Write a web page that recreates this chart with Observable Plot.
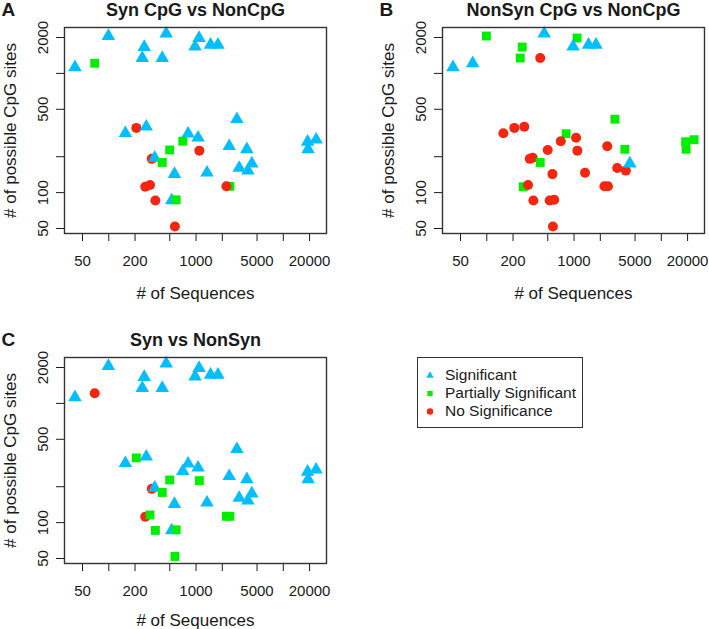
<!DOCTYPE html>
<html>
<head>
<meta charset="utf-8">
<script src="https://cdn.jsdelivr.net/npm/d3@7"></script>
<script src="https://cdn.jsdelivr.net/npm/@observablehq/plot@0.6"></script>
<style>
  body { margin: 0; background: #fff; }
  #wrap { position: relative; width: 709px; height: 629px; overflow: hidden; background: #fff;
          font-family: "Liberation Sans", Arial, Helvetica, sans-serif; color: #1a1a1a; }
  .panel { position: absolute; width: 355px; height: 310px; }
  #legend { position: absolute; left: 417px; top: 357px; width: 166px; height: 71px;
            border: 1.3px solid #333; box-sizing: border-box; padding-top: 8px; }
  #legend .item { height: 18px; display: flex; align-items: center; font-size: 15.5px; white-space: nowrap; }
  #legend svg { margin-left: 7px; margin-right: 10px; flex: none; }
</style>
</head>
<body>
<div id="wrap"></div>
<script>
// ---- data ----
const seqCounts = [41, 99, 255, 242, 455, 410, 1083, 975, 1466, 1784, 155, 207, 311, 269, 2940, 811, 1055, 2401, 3823, 336,
                   566, 1336, 3124, 3926, 4360, 526, 19000, 23770, 19250, 69, 705, 499, 410, 592, 2446, 1092, 262, 297, 342, 573, 2230];
const cpgSites  = [1123, 2059, 1664, 1345, 2160, 1345, 1981, 1680, 1736, 1736, 315, 349, 192, 357, 413, 312, 289, 245, 231, 196,
                   143, 147, 161, 153, 175, 86, 267, 278, 231, 1216, 270, 228, 179, 87, 113, 225, 112, 116, 86, 52, 113];
// S = Significant, P = Partially Significant, N = No Significance
const synCpgVsNonCpg    = ["S","S","S","S","S","S","S","S","S","S","S","N","N","S","S","S","S","S","S","S",
                           "S","S","S","S","S","S","S","S","S","P","P","P","P","P","P","N","N","N","N","N","N"];
const nonSynCpgVsNonCpg = ["S","P","P","P","S","N","P","S","S","S","N","N","N","N","P","P","N","N","P","N",
                           "N","N","N","N","S","N","P","P","P","S","N","N","P","N","N","N","P","N","N","N","N"];
const synVsNonSyn       = ["S","S","S","S","S","S","S","S","S","S","S","P","N","S","S","S","S","S","S","S",
                           "S","S","S","S","S","S","S","S","S","N","S","P","P","P","P","P","N","P","P","P","P"];

const panelLetters = ["A", "B", "C"];
const panelTitles = ["Syn CpG vs NonCpG", "NonSyn CpG vs NonCpG", "Syn vs NonSyn"];
const categoryCodes = ["S", "P", "N"];
const categories = ["Significant", "Partially Significant", "No Significance"];
const categoryColors = ["#00bfff", "#00ee00", "#f5250f"];
const categorySymbols = ["triangle", "square", "circle"];
const xTicks = [50, 100, 200, 500, 1000, 2000, 5000, 10000, 20000];
const xTickLabels = [50, 200, 1000, 5000, 20000];
const yTicks = [50, 100, 200, 500, 1000, 2000];
const yTickLabels = [50, 100, 500, 2000];
const xLabel = "# of Sequences";
const yLabel = "# of possible CpG sites";

const FONT = '"Liberation Sans", Arial, Helvetica, sans-serif';
const INK = "#1a1a1a";
const wrap = document.getElementById("wrap");

function makePanel(cats, k, left, top, xLabelDy) {
  const data = seqCounts.map((x, i) => ({
    x, y: cpgSites[i], cat: categories[categoryCodes.indexOf(cats[i])]
  }));
  const plot = Plot.plot({
    width: 355, height: 310,
    marginLeft: 64, marginRight: 29, marginTop: 27, marginBottom: 77,
    style: { fontFamily: FONT, fontSize: "15px", color: INK, background: "transparent", overflow: "visible" },
    x: { type: "log", domain: [31.1, 31260] },
    y: { type: "log", domain: [45.4, 2427] },
    color: { domain: categories, range: categoryColors },
    symbol: { domain: categories, range: categorySymbols },
    marks: [
      // tick marks only
      Plot.axisX({ ticks: xTicks, tickFormat: () => "", tickSize: 8, label: null }),
      Plot.axisY({ ticks: yTicks, tickFormat: () => "", tickSize: 8, label: null }),
      // tick labels
      Plot.text(xTickLabels, { x: d => d, text: d => String(d), frameAnchor: "bottom", dy: 22,
                               lineAnchor: "top", textAnchor: "middle", fontSize: 15 }),
      Plot.axisY({ ticks: yTickLabels, tickFormat: d => String(d), tickSize: 0, tickPadding: 17,
                   tickRotate: -90, label: null, fontSize: 15 }),
      Plot.dot(data, { x: "x", y: "y", fill: "cat", symbol: "cat", r: 5 }),
      Plot.frame({ stroke: "#333", strokeWidth: 1.4 }),
      Plot.text([panelTitles[k]], { text: d => d, frameAnchor: "top", dy: -12, lineAnchor: "bottom",
                                    textAnchor: "middle", fontSize: 18, fontWeight: "bold" }),
      Plot.text([panelLetters[k]], { text: d => d, frameAnchor: "top-left", dx: -63, dy: -12, textAnchor: "start",
                                     lineAnchor: "bottom", fontSize: 19, fontWeight: "bold" }),
      Plot.text([xLabel], { text: d => d, frameAnchor: "bottom", dy: xLabelDy, lineAnchor: "middle",
                            textAnchor: "middle", fontSize: 17 }),
      Plot.text([yLabel], { text: d => d, frameAnchor: "left", dx: -54, rotate: -90, lineAnchor: "middle",
                            textAnchor: "middle", fontSize: 17 })
    ]
  });
  const div = document.createElement("div");
  div.className = "panel";
  div.style.left = left + "px";
  div.style.top = top + "px";
  div.appendChild(plot);
  wrap.appendChild(div);
}

makePanel(synCpgVsNonCpg, 0, 0, 0, 60);
makePanel(nonSynCpgVsNonCpg, 1, 378, 0, 60);
makePanel(synVsNonSyn, 2, 0, 330, 57);

// legend
const symbolTypes = { triangle: d3.symbolTriangle, square: d3.symbolSquare, circle: d3.symbolCircle };
const legendSizes = [24, 28, 32];
const legend = document.createElement("div");
legend.id = "legend";
categories.forEach((c, i) => {
  const item = document.createElement("div");
  item.className = "item";
  const svg = d3.create("svg").attr("width", 10).attr("height", 10);
  svg.append("path")
    .attr("transform", "translate(5,5.5)")
    .attr("d", d3.symbol(symbolTypes[categorySymbols[i]], legendSizes[i])())
    .attr("fill", categoryColors[i]);
  item.appendChild(svg.node());
  const span = document.createElement("span");
  span.textContent = c;
  item.appendChild(span);
  legend.appendChild(item);
});
wrap.appendChild(legend);
</script>
</body>
</html>
